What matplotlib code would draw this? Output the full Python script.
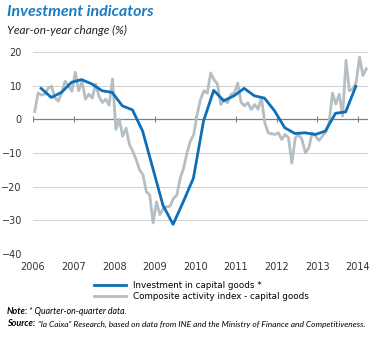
import matplotlib
matplotlib.use("Agg")
import matplotlib.pyplot as plt
import numpy as np

# quarterly: investment in capital goods (q-o-q, %), 2006 Q1 .. 2013 Q4
invest = [9.2, 6.5, 8.0, 11.0, 11.8, 10.5, 8.5, 8.0,
          4.0, 2.8, -3.5, -14.5, -25.5, -31.2, -24.5, -17.5,
          -0.5, 8.6, 5.5, 7.0, 9.2, 7.0, 6.3, 2.5,
          -2.5, -4.2, -4.0, -4.5, -3.5, 1.8, 2.2, 9.8]

# monthly: composite activity index - capital goods, Jan 2006 .. Mar 2014
composite = [2.3, 7.8, 7.2, 7.5, 9.3, 9.8, 6.3, 5.4, 8.0, 11.3, 10.0, 8.3,
             14.0, 8.5, 11.3, 6.0, 7.5, 6.3, 10.5, 6.8, 5.0, 6.0, 4.2, 12.0,
             -3.0, 0.0, -5.0, -2.6, -7.5, -9.5, -12.0, -15.0, -16.5, -21.5, -22.5, -30.8,
             -24.5, -28.3, -26.5, -26.0, -25.8, -23.5, -22.5, -17.5, -14.5, -10.0, -6.5, -4.5,
             1.4, 5.9, 8.5, 7.8, 13.8, 11.8, 10.5, 4.4, 5.9, 4.9, 7.4, 7.8,
             10.8, 5.0, 4.0, 4.9, 2.9, 4.4, 3.0, 6.5, -1.0, -4.0, -4.3, -4.5,
             -4.0, -6.0, -4.5, -5.5, -13.0, -5.5, -4.5, -6.0, -10.0, -8.5, -4.0, -5.0,
             -6.3, -5.0, -3.8, -1.0, 7.8, 4.5, 7.5, 1.0, 17.5, 8.5, 9.0, 11.0,
             18.5, 13.0, 15.0]

years = list(range(2006, 2015))
yticks = [-40, -30, -20, -10, 0, 10, 20]

t_q = 2006.2 + 0.25 * np.arange(len(invest))
t_m = 2006 + (np.arange(len(composite)) + 0.5) / 12

blue = '#0d6fb8'
grey = '#b4bec3'

fig = plt.figure(figsize=(3.8, 3.38), dpi=100)
ax = fig.add_axes([33/380, 1-254/338, 335/380, 202/338])

for y in yticks:
    if y != 0:
        ax.axhline(y, color='#d0d0d0', lw=0.7, zorder=0)
ax.axhline(0, color='#808080', lw=0.9, zorder=1)
ax.plot(years, [0]*len(years), ls='none', marker='|', ms=4, mew=0.8,
        color='#808080', zorder=1)

l2, = ax.plot(t_m, composite, color=grey, lw=2.0, zorder=2,
              label='Composite activity index - capital goods')
l1, = ax.plot(t_q, invest, color=blue, lw=2.0, zorder=3,
              label='Investment in capital goods *')

ax.set_xlim(2006, 2014.25)
ax.set_ylim(-40, 20)
ax.set_xticks(years)
ax.set_yticks(yticks)
ax.tick_params(length=0, labelsize=7, colors='#333333', pad=8)
ax.tick_params(axis='x', pad=6)
for s in ax.spines.values():
    s.set_visible(False)

fig.text(7/380, 1-12/338, 'Investment indicators', color='#1a7cc0',
         fontsize=11.5, fontweight='bold', style='italic', family='Lato', va='center')
fig.text(7/380, 1-30/338, 'Year-on-year change (%)', color='#222222',
         fontsize=8.5, style='italic', family='Lato', va='center')

fig.legend(handles=[l1, l2], loc='upper left', bbox_to_anchor=(90/380, 1-277/338),
           frameon=False, fontsize=6.3, handlelength=3.6, handletextpad=0.8,
           labelspacing=0.15, borderpad=0)

fig.text(7/380, 1-312/338, 'Note:', fontsize=6.5, fontweight='bold', style='italic',
         family='Lato', va='center')
fig.text(29/380, 1-312/338, '* Quarter-on-quarter data.', fontsize=6.3, style='italic',
         family='Lato', va='center')
fig.text(7/380, 1-324/338, 'Source:', fontsize=6.5, fontweight='bold', style='italic',
         family='Lato', va='center')
fig.text(38/380, 1-324/338,
         '"la Caixa" Research, based on data from INE and the Ministry of Finance and Competitiveness.',
         fontsize=6.05, style='italic', family='Lato', va='center')

fig.savefig('out.png', dpi=100)
